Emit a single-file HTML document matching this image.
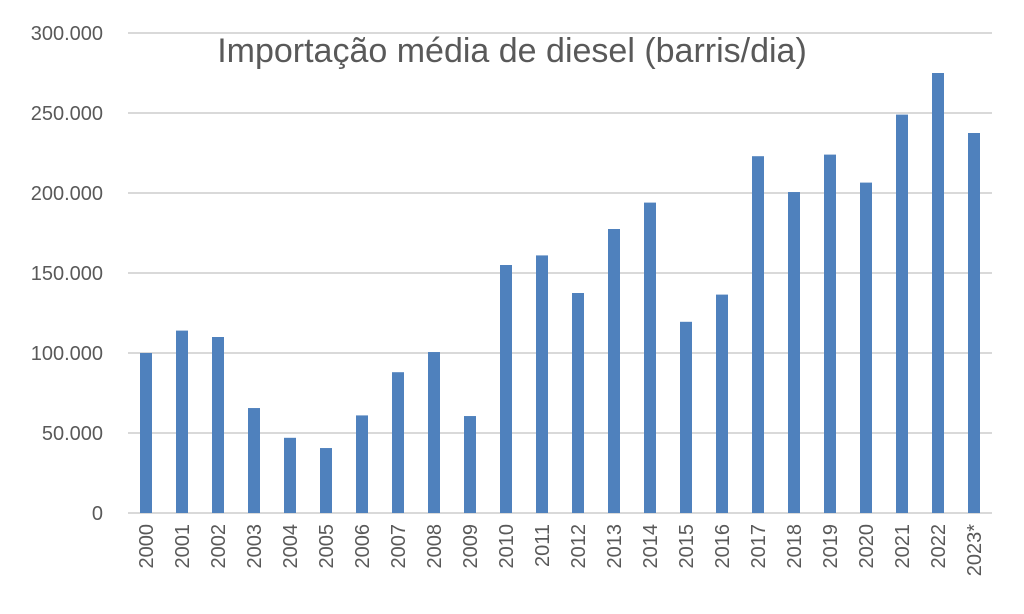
<!DOCTYPE html>
<html><head><meta charset="utf-8"><style>
body{margin:0;background:#fff}
svg{display:block;font-family:"Liberation Sans",sans-serif}
</style></head><body>
<svg id="chart" width="1024" height="614">
<rect x="0" y="0" width="1024" height="614" fill="#fff"/>
<g id="grid"></g><g id="bars"></g><g id="xl"></g><g id="yl"></g>
<text x="512" y="62" text-anchor="middle" font-size="34" fill="#595959">Importação média de diesel (barris/dia)</text>
</svg>
<script>
const categories=["2000","2001","2002","2003","2004","2005","2006","2007","2008","2009","2010","2011","2012","2013","2014","2015","2016","2017","2018","2019","2020","2021","2022","2023*"];
const values=[100000,114000,110000,65600,47000,40600,61000,88000,100600,60600,155000,161000,137500,177500,194000,119500,136500,223000,200600,224000,206500,249000,275000,237500];
const yTicks=[0,50000,100000,150000,200000,250000,300000];
const yTickLabels=["0","50.000","100.000","150.000","200.000","250.000","300.000"];
const NS="http://www.w3.org/2000/svg";
const L=128,R=992,T=33,B=513,maxV=300000;
const y=v=>B-(v/maxV)*(B-T);
const step=(R-L)/categories.length;
const x=i=>L+step*(i+0.5);
function mk(t,a,p){const e=document.createElementNS(NS,t);for(const k in a)e.setAttribute(k,a[k]);p.appendChild(e);return e;}
const g=document.getElementById('grid'),yl=document.getElementById('yl'),bg=document.getElementById('bars'),xl=document.getElementById('xl');
yTicks.forEach((v,i)=>{
 const l=mk('line',{x1:L,x2:R,y1:y(v),y2:y(v),stroke:'#d9d9d9','stroke-width':2},g);
 
 
 const t=mk('text',{x:103,y:y(v)+7,'text-anchor':'end','font-size':20,fill:'#595959'},yl);
 t.textContent=yTickLabels[i];
 
 
});
values.forEach((v,i)=>{
 const r=mk('rect',{x:x(i)-6,y:y(v),width:12,height:B-y(v),fill:'#4f81bd'},bg);
 
 
 const t=mk('text',{x:0,y:0,'text-anchor':'end','font-size':20,fill:'#595959',transform:`translate(${x(i)+7},524) rotate(-90)`},xl);
 t.textContent=categories[i];
 
 
});
</script>
</body></html>
